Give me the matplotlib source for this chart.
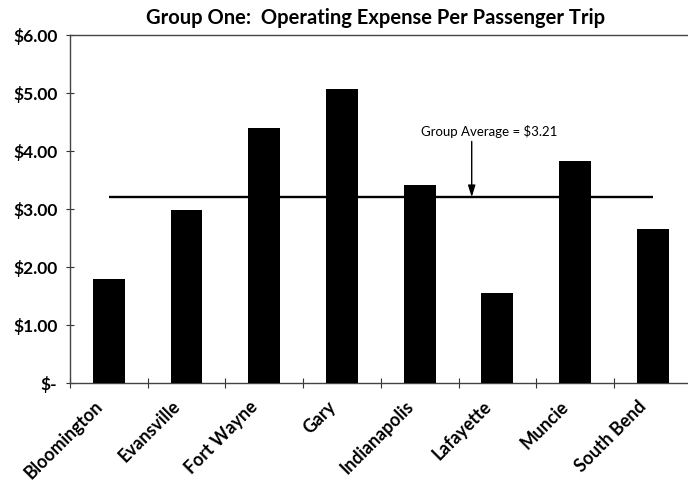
import matplotlib
matplotlib.use("Agg")
import matplotlib.pyplot as plt
import matplotlib.transforms as mtransforms
import numpy as np

cities = ["Bloomington", "Evansville", "Fort Wayne", "Gary",
          "Indianapolis", "Lafayette", "Muncie", "South Bend"]
expense = [1.80, 2.98, 4.40, 5.07, 3.42, 1.55, 3.83, 2.66]
group_average = 3.21
y_ticks = [0, 1, 2, 3, 4, 5, 6]
y_tick_labels = ["$-", "$1.00", "$2.00", "$3.00", "$4.00", "$5.00", "$6.00"]

plt.rcParams["font.family"] = ["Lato", "DejaVu Sans"]

fig = plt.figure(figsize=(6.88, 4.83), dpi=100)
ax = fig.add_axes([70 / 688, 0.2064, 621.6 / 688, 0.7205])

x = np.arange(len(cities))
ax.bar(x, expense, width=0.41, color="black", zorder=3)

# group average reference line across the bar centres
ax.plot([x[0], x[-1]], [group_average, group_average], color="black",
        lw=1.7, zorder=4, solid_capstyle="butt")

# label with a vertical arrow pointing down to the average line
ax.text(4.90, 4.35, f"Group Average = ${group_average:.2f}",
        ha="center", va="center", fontsize=9.5)
ax.annotate("", xy=(4.67, group_average), xytext=(4.67, 4.17),
            arrowprops=dict(arrowstyle="-|>,head_width=0.22,head_length=0.7",
                            color="black", lw=1.0, shrinkA=0, shrinkB=0))

ax.set_xlim(-0.5, len(cities) - 0.5)
ax.set_ylim(0, 6)

ax.set_yticks(y_ticks)
ax.set_yticklabels(y_tick_labels, fontsize=12.5, fontweight="bold")
ax.tick_params(axis="y", direction="inout", length=6, width=0.8,
               color="#333333", pad=6)

ax.set_xticks(x)
ax.set_xticklabels(cities, rotation=45, ha="right", rotation_mode="anchor",
                   fontsize=12.8, fontweight="bold")
ax.tick_params(axis="x", which="major", length=0, pad=9)
shift = mtransforms.ScaledTranslation(-15 / 100, -2 / 100, fig.dpi_scale_trans)
for lbl in ax.get_xticklabels():
    lbl.set_transform(lbl.get_transform() + shift)
ax.set_xticks(np.arange(len(cities)) - 0.5, minor=True)
ax.tick_params(axis="x", which="minor", direction="inout", length=7,
               width=0.8, color="#333333")

for side in ["left", "bottom", "top"]:
    ax.spines[side].set_color("#444444")
    ax.spines[side].set_linewidth(1.0)
ax.spines["right"].set_visible(False)

fig.text(376 / 688, 1 - 18 / 483,
         "Group One:  Operating Expense Per Passenger Trip",
         ha="center", va="center", fontsize=14.5, fontweight="bold")

fig.savefig("out.png", dpi=100)
